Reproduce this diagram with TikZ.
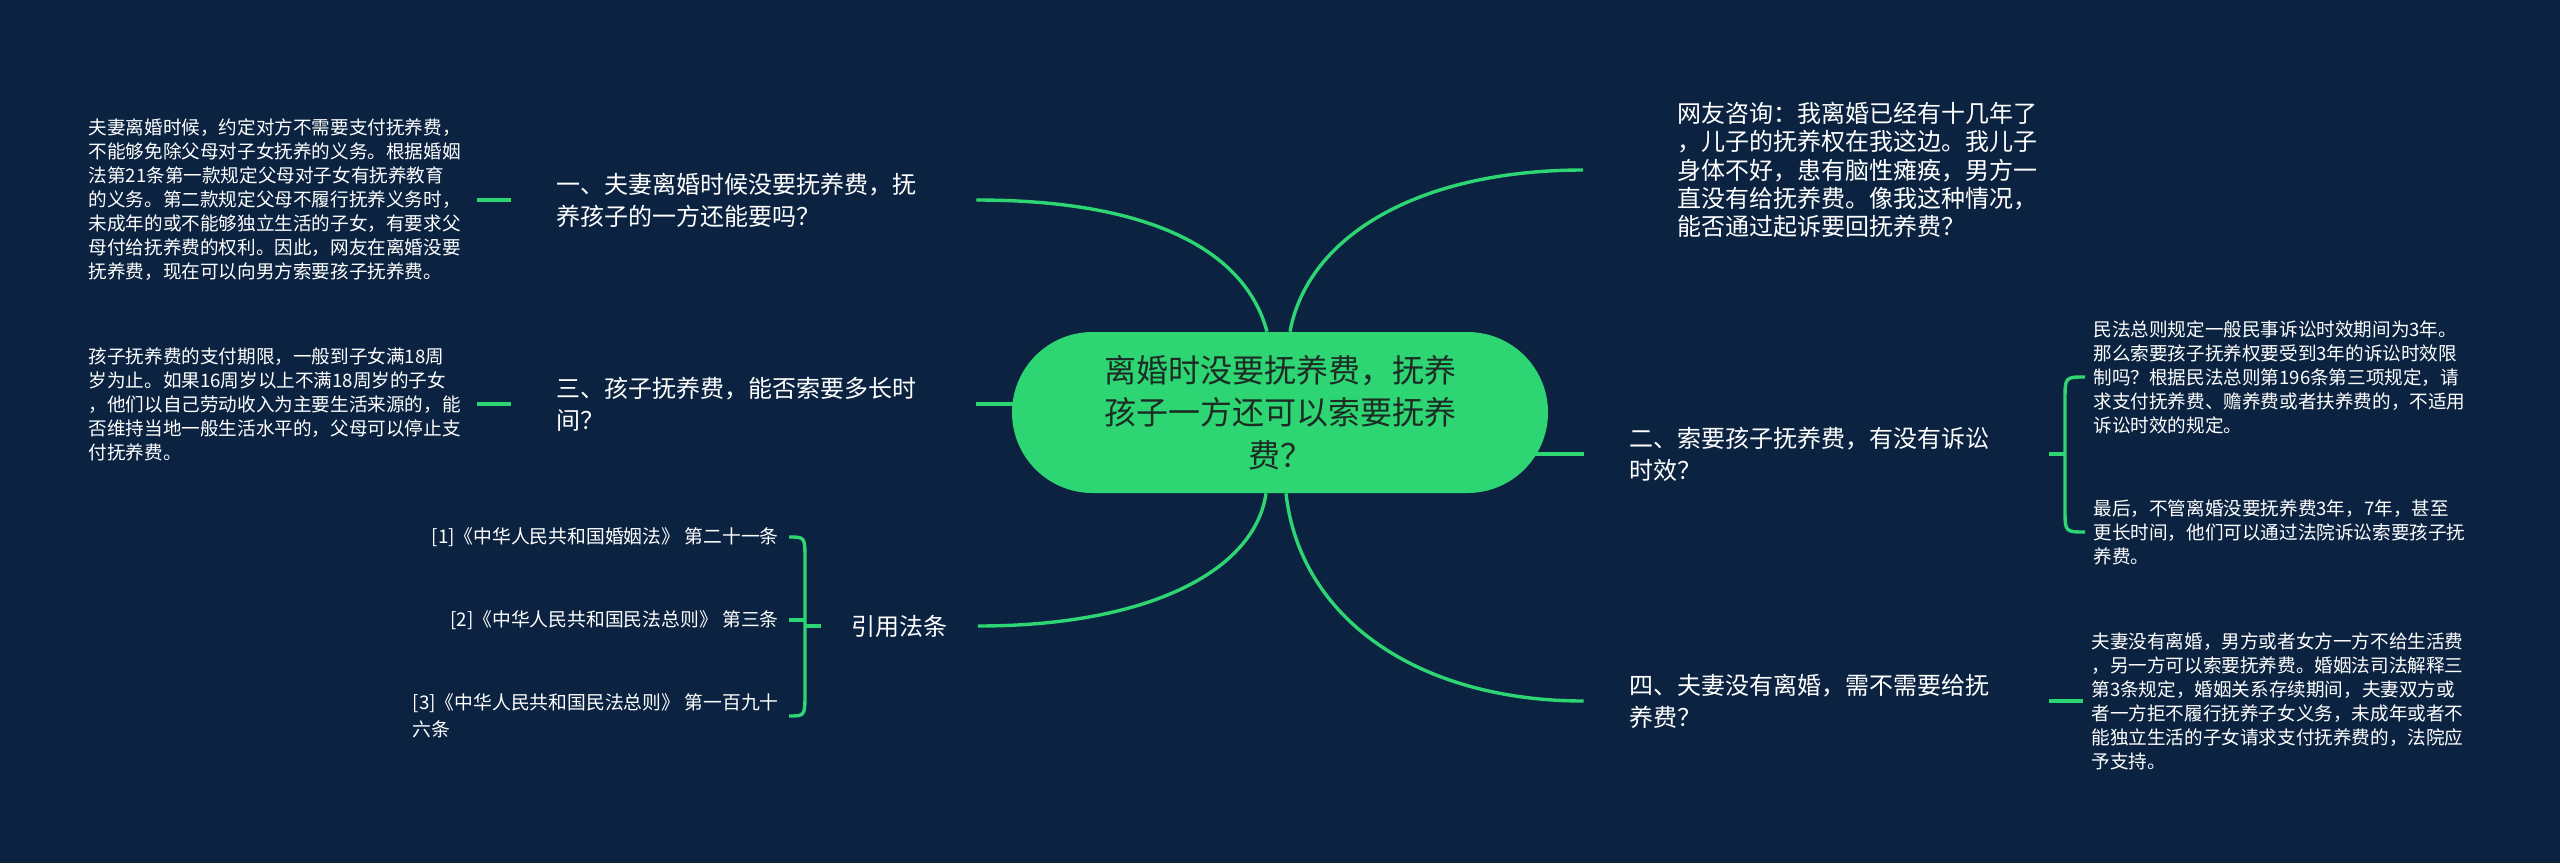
\documentclass[tikz,border=0pt]{standalone}
\usepackage{fontspec}
\newfontfamily\cjk{Noto Sans CJK SC}
\usetikzlibrary{backgrounds,calc}
\definecolor{bgcol}{HTML}{0B2340}
\definecolor{linecol}{HTML}{2ED573}
\definecolor{roottext}{HTML}{1C2B24}
\tikzset{
  conn/.style={draw=linecol,line width=1.7pt},
  rootnode/.style={fill=linecol,rounded corners=40.25pt,minimum width=268pt,minimum height=80.5pt,inner sep=0pt,align=center,text=roottext,font=\cjk\fontsize{16}{21.25}\selectfont},
  topic/.style={text=white,align=left,text width=187.5pt,inner xsep=22.5pt,inner ysep=0pt,font=\cjk\fontsize{12}{16}\selectfont},
  lawhead/.style={text=white,inner xsep=15pt,inner ysep=0pt,font=\cjk\fontsize{12}{16}\selectfont},
  question/.style={text=white,align=left,inner xsep=47pt,inner ysep=0pt,font=\cjk\fontsize{12}{14.2}\selectfont},
  leaf/.style={text=white,align=left,text width=190pt,inner xsep=4pt,inner ysep=0pt,font=\cjk\fontsize{9.3}{12}\selectfont},
  citenode/.style={text=white,align=left,inner xsep=5pt,inner ysep=0pt,font=\cjk\fontsize{9.4}{13.5}\selectfont}
}
\begin{document}
\begin{tikzpicture}[x=0.5pt,y=-0.5pt]
\useasboundingbox (0,0) rectangle (2560,863);
\node[rootnode] (root) at (1280,412.5) {离婚时没要抚养费，抚养\\孩子一方还可以索要抚养\\费？};
\node[question,anchor=west] (q) at (1583,170) {网友咨询：我离婚已经有十几年了\\，儿子的抚养权在我这边。我儿子\\身体不好，患有脑性瘫痪，男方一\\直没有给抚养费。像我这种情况，\\能否通过起诉要回抚养费？};
\node[topic] (b1) at (743.5,200) {一、夫妻离婚时候没要抚养费，抚\\养孩子的一方还能要吗？};
\node[topic] (b3) at (743.5,404) {三、孩子抚养费，能否索要多长时\\间？};
\node[topic] (b2) at (1816.5,454) {二、索要孩子抚养费，有没有诉讼\\时效？};
\node[topic] (b4) at (1816.5,701) {四、夫妻没有离婚，需不需要给抚\\养费？};
\node[lawhead] (law) at (899.5,626) {引用法条};
\node[leaf,anchor=east] (d1) at (477,200) {夫妻离婚时候，约定对方不需要支付抚养费，\\不能够免除父母对子女抚养的义务。根据婚姻\\法第21条第一款规定父母对子女有抚养教育\\的义务。第二款规定父母不履行抚养义务时，\\未成年的或不能够独立生活的子女，有要求父\\母付给抚养费的权利。因此，网友在离婚没要\\抚养费，现在可以向男方索要孩子抚养费。};
\node[leaf,anchor=east] (d3) at (477,404) {孩子抚养费的支付期限，一般到子女满18周\\岁为止。如果16周岁以上不满18周岁的子女\\，他们以自己劳动收入为主要生活来源的，能\\否维持当地一般生活水平的，父母可以停止支\\付抚养费。};
\node[leaf,anchor=west] (d2a) at (2085,377) {民法总则规定一般民事诉讼时效期间为3年。\\那么索要孩子抚养权要受到3年的诉讼时效限\\制吗？根据民法总则第196条第三项规定，请\\求支付抚养费、赡养费或者扶养费的，不适用\\诉讼时效的规定。};
\node[leaf,anchor=west] (d2b) at (2085,532) {最后，不管离婚没要抚养费3年，7年，甚至\\更长时间，他们可以通过法院诉讼索要孩子抚\\养费。};
\node[leaf,anchor=west] (d4) at (2083,701) {夫妻没有离婚，男方或者女方一方不给生活费\\，另一方可以索要抚养费。婚姻法司法解释三\\第3条规定，婚姻关系存续期间，夫妻双方或\\者一方拒不履行抚养子女义务，未成年或者不\\能独立生活的子女请求支付抚养费的，法院应\\予支持。};
\node[citenode,anchor=east] (c1) at (789,537) {[1]《中华人民共和国婚姻法》 第二十一条};
\node[citenode,anchor=east] (c2) at (789,620) {[2]《中华人民共和国民法总则》 第三条};
\node[citenode,anchor=east] (c3) at (789,716) {[3]《中华人民共和国民法总则》 第一百九十\\六条};
\coordinate (lawfork) at (805,626);
\coordinate (b2fork) at (2065,454);
\begin{scope}[on background layer]
\fill[bgcol] (0,0) rectangle (2560,863);
\draw[conn] (b1.east) .. controls (1150,200) and (1245,250) .. ($(root.north)+(-13,0)$);
\draw[conn] ($(root.north)+(10,0)$) .. controls (1308,235) and (1420,170) .. (q.west);
\draw[conn] (law.east) .. controls (1150,626) and (1255,570) .. ($(root.south)+(-14,0)$);
\draw[conn] ($(root.south)+(6,0)$) .. controls (1300,620) and (1420,701) .. (b4.west);
\draw[conn] (b3.east) -- (root |- b3.east);
\draw[conn] (b2.west) -- (root |- b2.west);
\draw[conn] (d1.east) -- (b1.west);
\draw[conn] (d3.east) -- (b3.west);
\draw[conn] (b4.east) -- (d4.west);
\draw[conn] (b2.east) -- (b2fork);
\draw[conn] (d2a.west) .. controls (2065,377) .. (2065,400) -- (2065,509) .. controls (2065,532) .. (d2b.west);
\draw[conn] (law.west) -- (lawfork);
\draw[conn] (c2.east) -- (lawfork |- c2.east);
\draw[conn] (c1.east) .. controls (805,537) .. (805,560) -- (805,692) .. controls (805,716) .. (c3.east);
\end{scope}
\end{tikzpicture}
\end{document}
